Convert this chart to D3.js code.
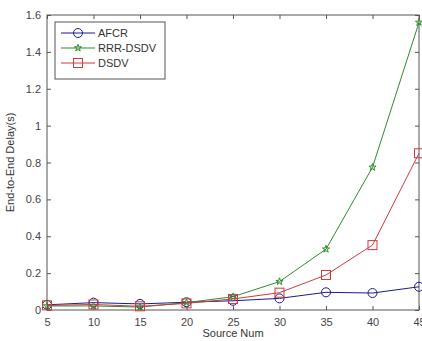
<!DOCTYPE html>
<html>
<head>
<meta charset="utf-8">
<script src="https://cdn.jsdelivr.net/npm/d3@7"></script>
<style>
  body { margin: 0; background: #fff; }
  svg { font-family: "Liberation Sans", Arial, sans-serif; }
</style>
</head>
<body>
<div id="chart"></div>
<script>
const sourceNum = [5, 10, 15, 20, 25, 30, 35, 40, 45];
const afcr = [0.028, 0.040, 0.033, 0.042, 0.050, 0.063, 0.096, 0.092, 0.126];
const rrrDsdv = [0.022, 0.022, 0.016, 0.040, 0.072, 0.154, 0.330, 0.774, 1.560];
const dsdv = [0.025, 0.030, 0.020, 0.036, 0.060, 0.094, 0.190, 0.352, 0.850];
const xTicks = [5, 10, 15, 20, 25, 30, 35, 40, 45];
const yTicks = [0, 0.2, 0.4, 0.6, 0.8, 1, 1.2, 1.4, 1.6];

const W = 422, H = 341;
const margin = { top: 15, right: 3, bottom: 31, left: 47 },
    width = W - margin.left - margin.right,
    height = H - margin.top - margin.bottom;

const series = [
    { name: 'AFCR', values: afcr, color: '#1a1a8c', marker: 'circle' },
    { name: 'RRR-DSDV', values: rrrDsdv, color: '#2e8b2e', marker: 'star' },
    { name: 'DSDV', values: dsdv, color: '#cc3b3b', marker: 'square' },
];

const svg = d3.select('#chart')
    .append('svg')
    .attr('width', W)
    .attr('height', H);

const g = svg.append('g')
    .attr('transform', `translate(${margin.left},${margin.top})`);

const x = d3.scaleLinear().domain([5, 45]).range([0, width]);
const y = d3.scaleLinear().domain([0, 1.6]).range([height, 0]);

const axisColor = '#555';

// plot frame
g.append('rect')
    .attr('width', width)
    .attr('height', height)
    .attr('fill', 'none')
    .attr('stroke', axisColor)
    .attr('stroke-width', 1);

const styleAxis = (sel) => {
    sel.select('.domain').remove();
    sel.selectAll('line').attr('stroke', axisColor);
    sel.selectAll('text').attr('fill', '#444').style('font-size', '11px');
};

// bottom and left axes, ticks point inward
g.append('g')
    .attr('transform', `translate(0,${height})`)
    .call(d3.axisBottom(x).tickValues(xTicks).tickSize(-4).tickPadding(8))
    .call(styleAxis);
g.append('g')
    .call(d3.axisLeft(y).tickValues(yTicks).tickSize(-4).tickPadding(6)
        .tickFormat((d) => (d === 0 ? '0' : String(d))))
    .call(styleAxis);

// top and right ticks without labels
g.append('g')
    .call(d3.axisTop(x).tickValues(xTicks).tickSize(-4).tickFormat(''))
    .call(styleAxis);
g.append('g')
    .attr('transform', `translate(${width},0)`)
    .call(d3.axisRight(y).tickValues(yTicks).tickSize(-4).tickFormat(''))
    .call(styleAxis);

// axis labels
g.append('text')
    .attr('x', width / 2)
    .attr('y', height + 27)
    .attr('text-anchor', 'middle')
    .attr('fill', '#333')
    .style('font-size', '11px')
    .text('Source Num');
g.append('text')
    .attr('transform', 'rotate(-90)')
    .attr('x', -height / 2)
    .attr('y', -margin.left + 14)
    .attr('text-anchor', 'middle')
    .attr('fill', '#333')
    .style('font-size', '11px')
    .text('End-to-End Delay(s)');

const drawMarker = (sel, type, color) => {
    if (type === 'circle') {
        sel.append('circle').attr('r', 4.5)
            .attr('fill', 'none').attr('stroke', color);
    } else if (type === 'square') {
        sel.append('rect').attr('x', -4.5).attr('y', -4.5)
            .attr('width', 9).attr('height', 9)
            .attr('fill', 'none').attr('stroke', color);
    } else {
        sel.append('path')
            .attr('d', d3.symbol(d3.symbolStar, 16)())
            .attr('fill', 'none').attr('stroke', color);
    }
};

const line = d3.line()
    .x((d, i) => x(sourceNum[i]))
    .y((d) => y(d));

series.forEach((s) => {
    g.append('path')
        .datum(s.values)
        .attr('fill', 'none')
        .attr('stroke', s.color)
        .attr('stroke-width', 1)
        .attr('d', line);
    g.selectAll(null)
        .data(s.values)
        .enter()
        .append('g')
        .attr('transform', (d, i) => `translate(${x(sourceNum[i])},${y(d)})`)
        .each(function () { drawMarker(d3.select(this), s.marker, s.color); });
});

// legend
const legend = g.append('g').attr('transform', 'translate(8,7)');
legend.append('rect')
    .attr('width', 110)
    .attr('height', 57)
    .attr('fill', '#fff')
    .attr('stroke', axisColor);
series.forEach((s, i) => {
    const row = legend.append('g').attr('transform', `translate(0,${11 + i * 15})`);
    row.append('line')
        .attr('x1', 6).attr('x2', 40)
        .attr('stroke', s.color);
    drawMarker(row.append('g').attr('transform', 'translate(23,0)'), s.marker, s.color);
    row.append('text')
        .attr('x', 43)
        .attr('dy', '0.35em')
        .attr('fill', '#333')
        .style('font-size', '11px')
        .text(s.name);
});
</script>
</body>
</html>
